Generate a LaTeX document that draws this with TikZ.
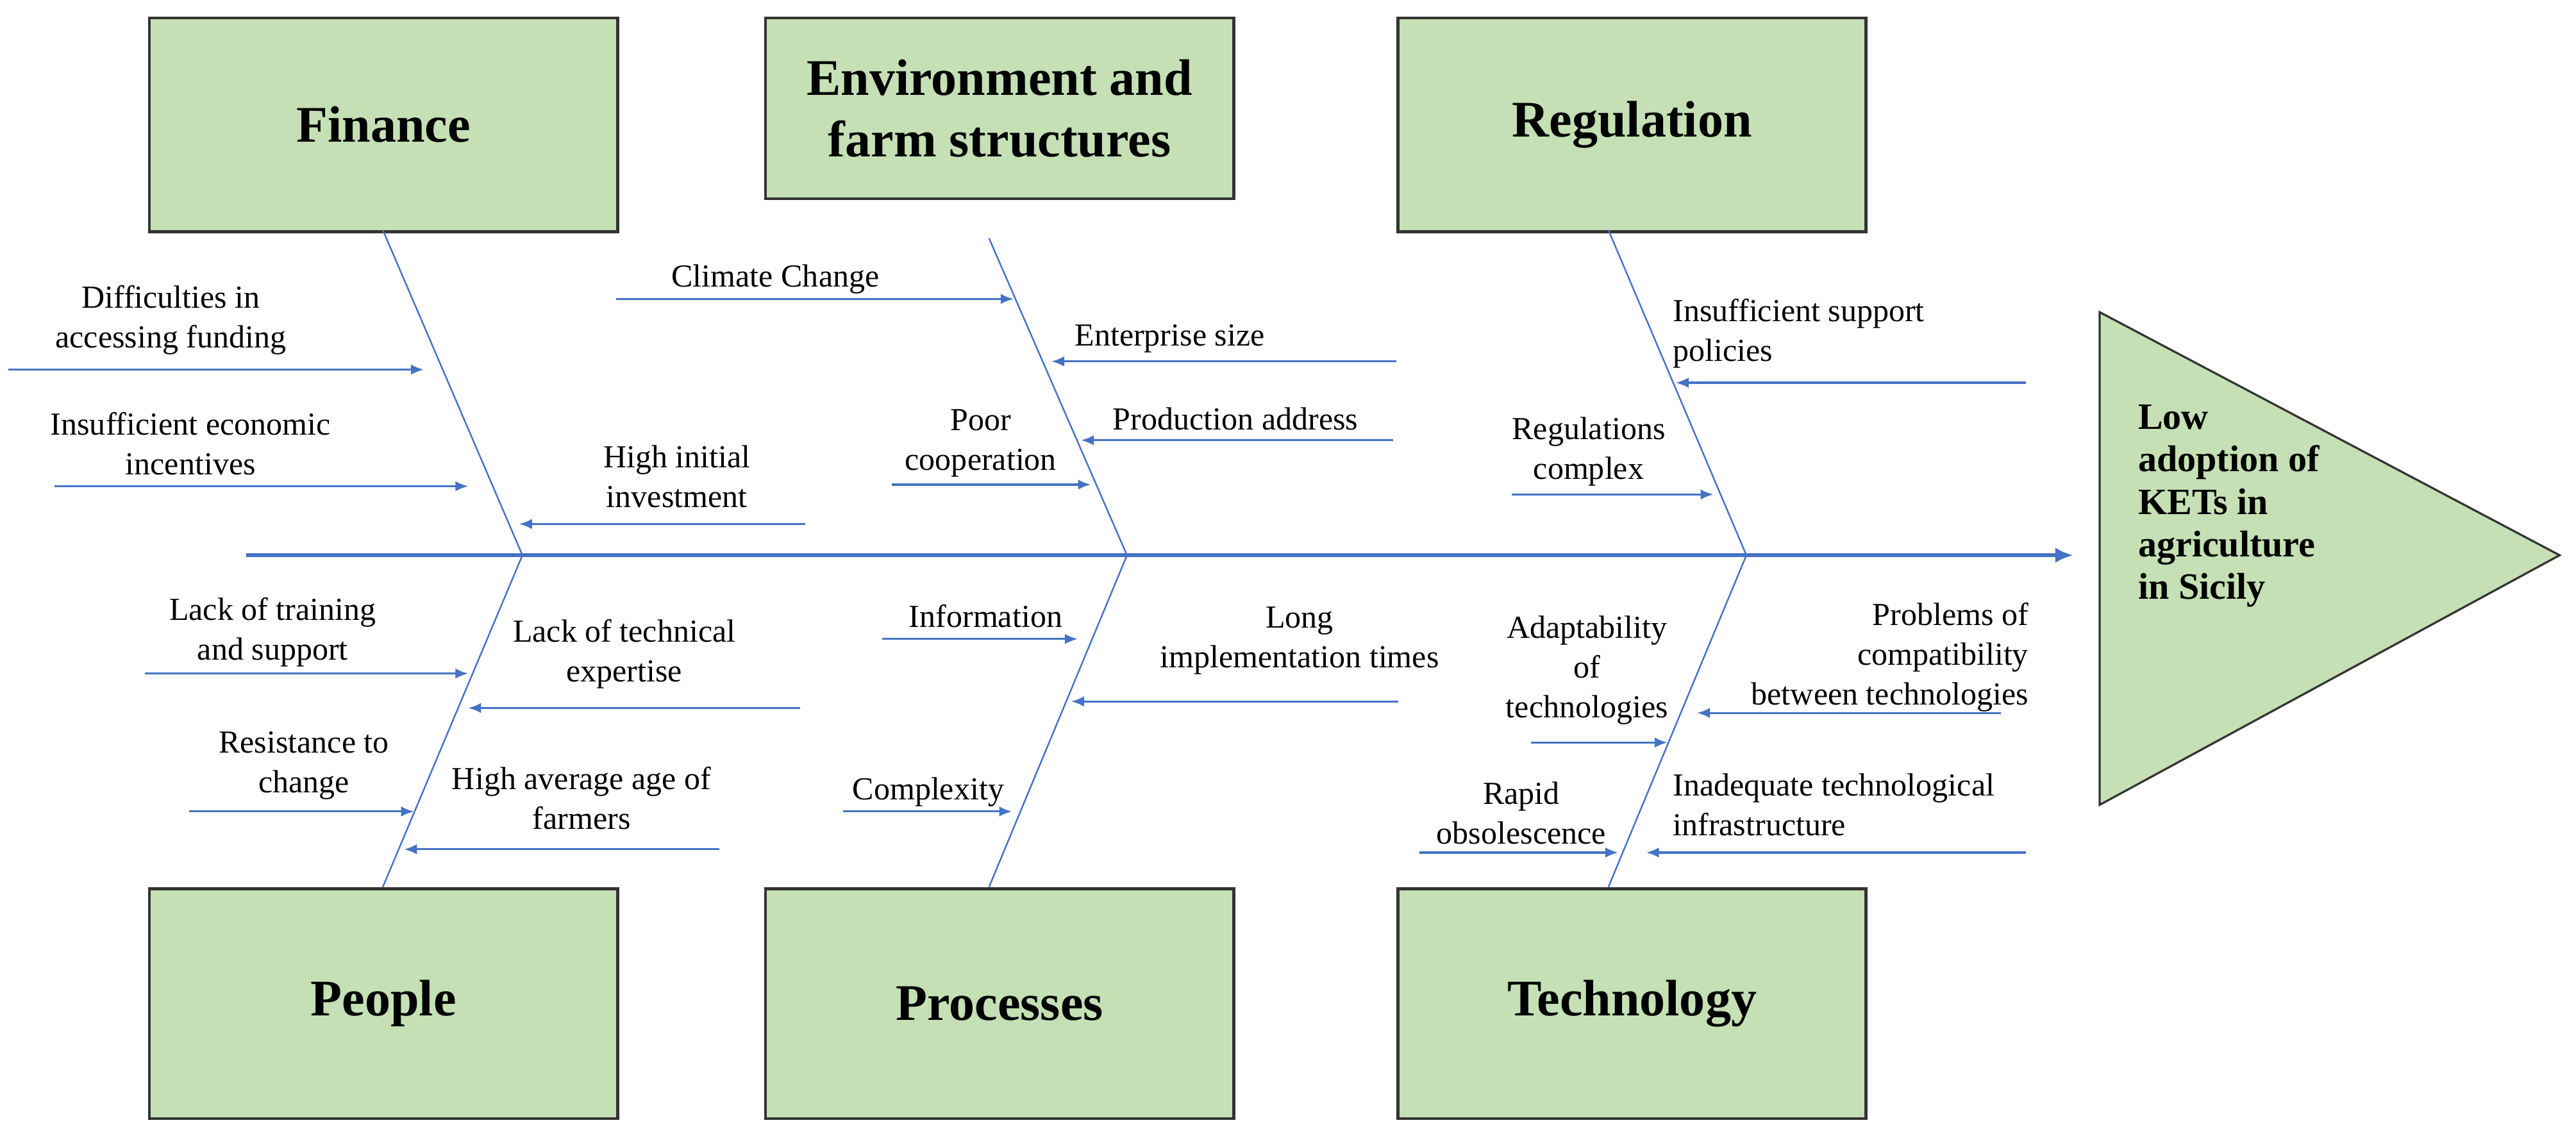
\documentclass[tikz,border=0pt]{standalone}
\usepackage{fontspec}
\setmainfont{Liberation Serif}
\usetikzlibrary{arrows.meta}
\begin{document}
\begin{tikzpicture}[x=0.64pt,y=-0.64pt,
  box/.style={draw=black!80,line width=1.2pt,fill=boxg,minimum width=285*0.64pt,minimum height=130*0.64pt,font=\fontsize{20}{24}\selectfont\bfseries,align=center,inner sep=0pt},
  bone/.style={draw=bl,line width=0.6pt},
  arr/.style={draw=bl,line width=0.8pt,-{Latex[length=5pt,width=4pt]}},
  lab/.style={font=\fontsize{12.5}{15.5}\selectfont,align=center,inner sep=0pt}]
\definecolor{boxg}{HTML}{C5E0B4}
\definecolor{bl}{HTML}{4472C4}
\useasboundingbox (0,0) rectangle (1568,690);
% boxes
\node[box,anchor=north west] (fin) at (90,10) {Finance};
\node[box,anchor=north west,minimum height=110*0.64pt] (env) at (465,10) {Environment and\\farm structures};
\node[box,anchor=north west] (reg) at (850,10) {Regulation};
\node[box,anchor=north west,minimum height=140*0.64pt] (peo) at (90,540) {People};
\node[box,anchor=north west,minimum height=140*0.64pt] (pro) at (465,540) {Processes};
\node[box,anchor=north west,minimum height=140*0.64pt] (tec) at (850,540) {Technology};
% head
\draw[draw=black!80,fill=boxg,line width=0.8pt] (1278,190) coordinate (t1) -- (1278,490) coordinate (t2) -- (1558,338) coordinate (t3) -- cycle;
\node[font=\fontsize{14.5}{16.5}\selectfont\bfseries,align=left,anchor=west] (head) at (1296,308) {Low\\adoption of\\KETs in\\agriculture\\in Sicily};
% spine
\coordinate (s0) at (150,338);
\coordinate (s1) at (1262,338);
\draw[draw=bl,line width=1.6pt,-{Latex[length=7pt,width=6pt]}] (s0) -- (s1);
% bones
\coordinate (j1) at (318,338); \coordinate (j2) at (686,338); \coordinate (j3) at (1063,338);
\draw[bone] (233,140) coordinate (b1) -- (j1) -- (233,540) coordinate (b2);
\draw[bone] (602,145) coordinate (b3) -- (j2) -- (602,540) coordinate (b4);
\draw[bone] (979,140) coordinate (b5) -- (j3) -- (979,540) coordinate (b6);
% finance
\node[lab] (l1) at (104,195) {Difficulties in\\accessing funding};
\draw[arr] (5,225) coordinate (a1) -- (258,225) coordinate (e1);
\node[lab] (l2) at (116,270) {Insufficient economic\\incentives};
\draw[arr] (33,296) coordinate (a2) -- (285,296) coordinate (e2);
\node[lab] (l3) at (412,290) {High initial\\investment};
\draw[arr] (490,319) coordinate (a3) -- (316,319) coordinate (e3);
% environment
\node[lab] (l4) at (472,170) {Climate Change};
\draw[arr] (375,182) coordinate (a4) -- (617,182) coordinate (e4);
\node[lab] (l5) at (712,206) {Enterprise size};
\draw[arr] (850,220) coordinate (a5) -- (640,220) coordinate (e5);
\node[lab] (l6) at (752,255) {Production address};
\draw[arr] (848,268) coordinate (a6) -- (658,268) coordinate (e6);
\node[lab] (l7) at (597,270) {Poor\\cooperation};
\draw[arr] (543,295) coordinate (a7) -- (664,295) coordinate (e7);
% regulation
\node[lab,align=left,anchor=west] (l8) at (1018,203) {Insufficient support\\policies};
\draw[arr] (1233,233) coordinate (a8) -- (1020,233) coordinate (e8);
\node[lab] (l9) at (967,275) {Regulations\\complex};
\draw[arr] (920,301) coordinate (a9) -- (1043,301) coordinate (e9);
% people
\node[lab] (l10) at (166,385) {Lack of training\\and support};
\draw[arr] (88,410) coordinate (a10) -- (285,410) coordinate (e10);
\node[lab] (l11) at (380,398) {Lack of technical\\expertise};
\draw[arr] (487,431) coordinate (a11) -- (285,431) coordinate (e11);
\node[lab] (l12) at (185,466) {Resistance to\\change};
\draw[arr] (115,494) coordinate (a12) -- (252,494) coordinate (e12);
\node[lab] (l13) at (354,486) {High average age of\\farmers};
\draw[arr] (438,517) coordinate (a13) -- (246,517) coordinate (e13);
% processes
\node[lab] (l14) at (600,375) {Information};
\draw[arr] (537,389) coordinate (a14) -- (656,389) coordinate (e14);
\node[lab] (l15) at (791,390) {Long\\implementation times};
\draw[arr] (851,427) coordinate (a15) -- (652,427) coordinate (e15);
\node[lab] (l16) at (565,482) {Complexity};
\draw[arr] (513,494) coordinate (a16) -- (616,494) coordinate (e16);
% technology
\node[lab,align=right,anchor=east] (l17) at (1235,400) {Problems of\\compatibility\\between technologies};
\draw[arr] (1218,434) coordinate (a17) -- (1033,434) coordinate (e17);
\node[lab] (l18) at (966,408) {Adaptability\\of\\technologies};
\draw[arr] (932,452) coordinate (a18) -- (1015,452) coordinate (e18);
\node[lab,align=left,anchor=west] (l19) at (1018,490) {Inadequate technological\\infrastructure};
\draw[arr] (1233,519) coordinate (a19) -- (1002,519) coordinate (e19);
\node[lab] (l20) at (926,495) {Rapid\\obsolescence};
\draw[arr] (864,519) coordinate (a20) -- (985,519) coordinate (e20);
\end{tikzpicture}
\end{document}
